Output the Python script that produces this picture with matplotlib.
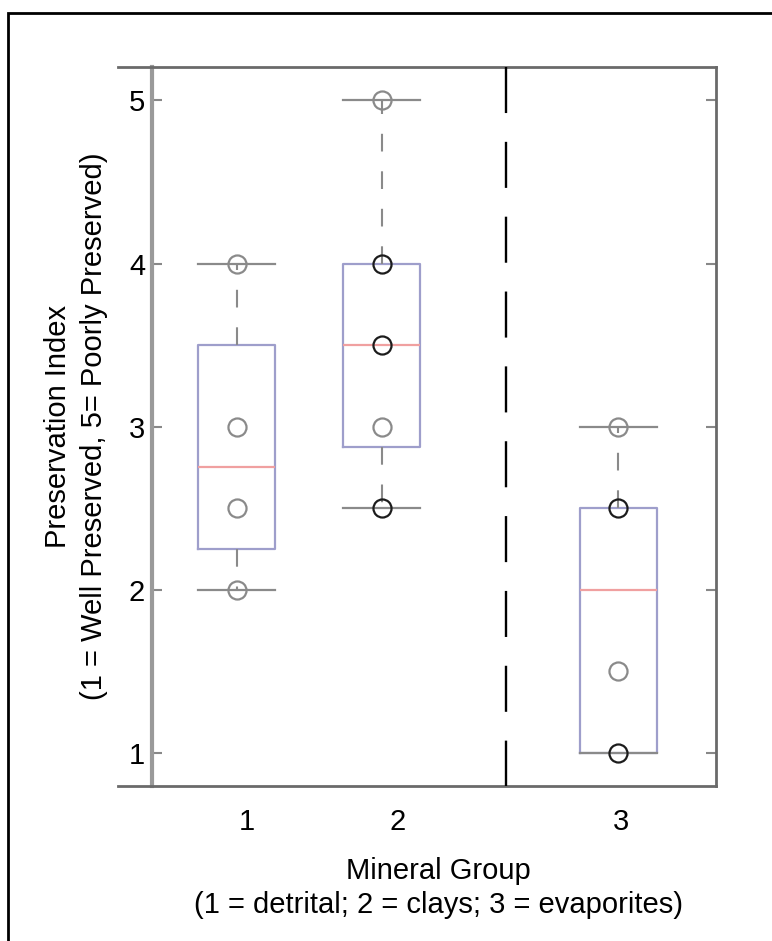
import matplotlib
matplotlib.use("Agg")
import matplotlib.pyplot as plt
from matplotlib.patches import Rectangle

plt.rcParams['font.family'] = ['Liberation Sans', 'DejaVu Sans']

# ---- data ----
groups = ['1', '2', '3']
q1 = [2.25, 2.875, 1.0]
median = [2.75, 3.5, 2.0]
q3 = [3.5, 4.0, 2.5]
whisker_low = [2.0, 2.5, 1.0]
whisker_high = [4.0, 5.0, 3.0]
points_g1 = [2.0, 2.5, 3.0, 4.0]
counts_g1 = [1, 1, 1, 1]
points_g2 = [2.5, 3.0, 3.5, 4.0, 5.0]
counts_g2 = [2, 1, 2, 2, 1]
points_g3 = [1.0, 1.5, 2.5, 3.0]
counts_g3 = [2, 1, 2, 1]
y_ticks = [1, 2, 3, 4, 5]

# ---- layout ----
box_pos = [1.0, 2.0, 3.632]
tick_pos = [1.07, 2.112, 3.648]
divider_x = 2.857
box_w = 0.53

W, H = 772, 941
fig = plt.figure(figsize=(W / 100, H / 100), dpi=100)
ax = fig.add_axes([118 / W, 1 - 786 / H, (716 - 118) / W, (786 - 67) / H])
ax.set_xlim(0.181, 4.305)
ax.set_ylim(0.797, 5.205)

stats = []
for i in range(3):
    stats.append(dict(med=median[i], q1=q1[i], q3=q3[i],
                      whislo=whisker_low[i], whishi=whisker_high[i], fliers=[]))
grey = '#8a8a8a'
ax.bxp(stats, positions=box_pos, widths=box_w, showfliers=False,
       boxprops=dict(color='#9e9ecb', linewidth=1.6),
       medianprops=dict(color='#f0a0a0', linewidth=1.6),
       whiskerprops=dict(color=grey, linewidth=1.5, linestyle=(0, (8.5, 9.5))),
       capprops=dict(color=grey, linewidth=1.6),
       capwidths=box_w, manage_ticks=False)

for pos, pts, cnts in zip(box_pos, [points_g1, points_g2, points_g3],
                          [counts_g1, counts_g2, counts_g3]):
    for v, c in zip(pts, cnts):
        ax.plot([pos], [v], marker='o', markersize=13, mfc='none',
                mec='#1c1c1c' if c > 1 else grey, mew=1.6, zorder=5)

ax.plot([divider_x, divider_x], [5.205, 0.797], color='black', lw=1.7,
        linestyle=(0, (19.5, 12.2)), zorder=4)

# spines
ax.spines['left'].set_position(('data', 0.416))
ax.spines['left'].set_color('#9a9a9a')
ax.spines['left'].set_linewidth(3)
for s in ['top', 'bottom', 'right']:
    ax.spines[s].set_color('#6a6a6a')
    ax.spines[s].set_linewidth(2)

ax.set_yticks(y_ticks)
ax.set_yticklabels([str(v) for v in y_ticks])
ax.tick_params(axis='y', direction='in', length=7, width=1.5, color='#888888',
               left=True, right=True, labelsize=21, pad=5)
ax.set_xticks(tick_pos)
ax.set_xticklabels(groups)
ax.tick_params(axis='x', length=0, labelsize=21, pad=16)

fig.text(76 / W, 1 - 426 / H,
         'Preservation Index\n(1 = Well Preserved, 5= Poorly Preserved)',
         rotation=90, ha='center', va='center', fontsize=21,
         multialignment='center', linespacing=1.4)
fig.text(438 / W, 1 - 888 / H,
         'Mineral Group\n(1 = detrital; 2 = clays; 3 = evaporites)',
         ha='center', va='center', fontsize=21,
         multialignment='center', linespacing=1.25)

fig.patches.append(Rectangle((8 / W, -0.05), 1.2, 1.05 - 13 / H,
                             transform=fig.transFigure, fill=False,
                             edgecolor='black', linewidth=2))

fig.savefig('out.png', dpi=100)
